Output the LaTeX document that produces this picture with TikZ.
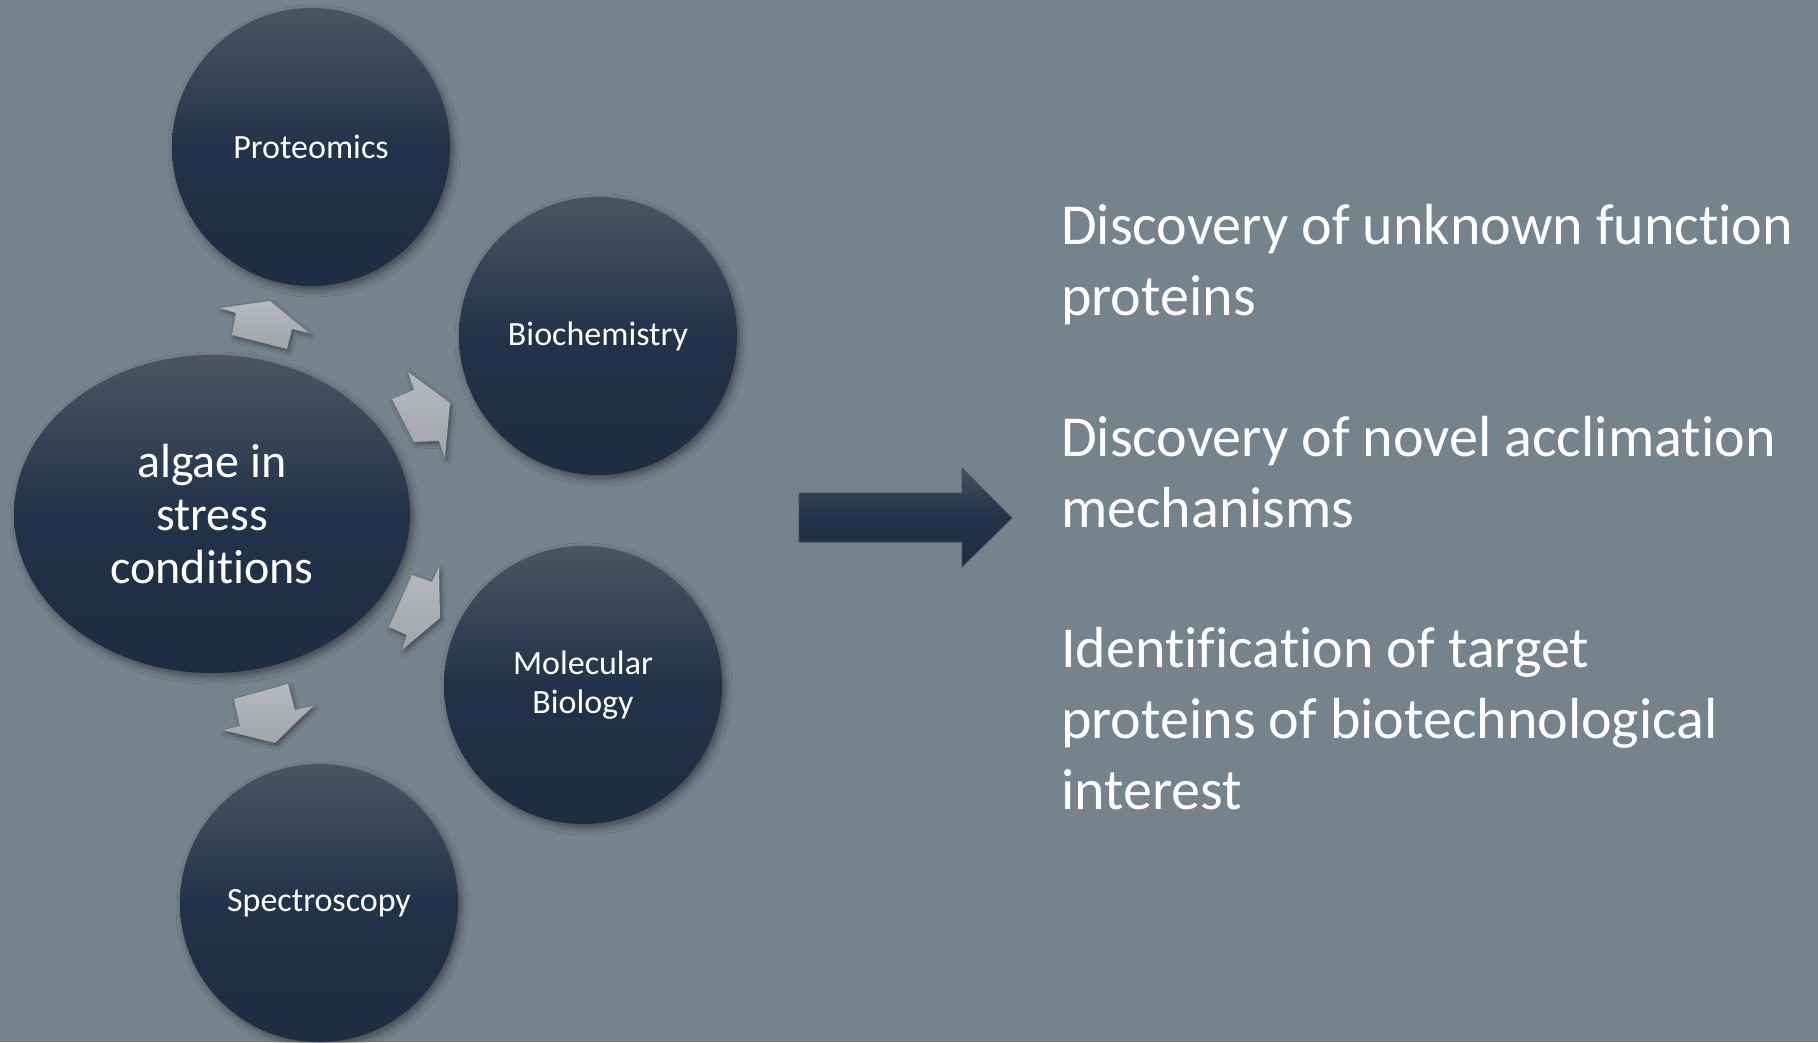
\documentclass[tikz,border=0pt]{standalone}
\usepackage{fontspec}
\setmainfont{Carlito}[Ligatures=NoCommon]
\usetikzlibrary{shapes.geometric,shadows.blur}
\definecolor{bgslate}{RGB}{117,131,140}
\definecolor{navytop}{RGB}{75,85,98}
\definecolor{navymid}{RGB}{33,51,74}
\definecolor{navybot}{RGB}{29,45,66}
\definecolor{chevtop}{RGB}{182,185,189}
\definecolor{chevbot}{RGB}{160,165,170}
\definecolor{arrowedge}{RGB}{62,78,97}
\tikzset{
  topic/.style={circle, minimum size=278pt, inner sep=0pt, align=center,
    text=white, font=\fontsize{34}{39}\selectfont,
    top color=navytop, bottom color=navybot, middle color=navymid,
    blur shadow={shadow xshift=3pt, shadow yshift=-4pt, shadow blur radius=7pt, shadow opacity=45}},
  hub/.style={ellipse, minimum width=396pt, minimum height=318pt, inner sep=0pt, align=center,
    text=white, font=\fontsize{48}{53}\selectfont,
    top color=navytop, bottom color=navybot, middle color=navymid,
    blur shadow={shadow xshift=3pt, shadow yshift=-4pt, shadow blur radius=7pt, shadow opacity=45}},
  chevron/.style={top color=chevtop, bottom color=chevbot,
    blur shadow={shadow xshift=2pt, shadow yshift=-3pt, shadow blur radius=4pt, shadow opacity=40}},
  bigarrow/.style={draw=arrowedge, line width=0.8pt, top color=navytop!85!navymid, bottom color=navybot, middle color=navymid},
  outcome/.style={anchor=base west, inner sep=0pt, text=white, font=\fontsize{58}{71}\selectfont}
}
\begin{document}
\begin{tikzpicture}[x=1pt,y=-1pt]
  \useasboundingbox (0,0) rectangle (1818,1042);
  \fill[bgslate] (0,0) rectangle (1818,1042);

  % central hub and the four techniques
  \node[hub]   (algae) at (212,514) {algae in\\stress\\conditions};
  \node[topic] (prot)  at (311,147) {Proteomics};
  \node[topic] (bioc)  at (598,336) {Biochemistry};
  \node[topic] (molb)  at (583,685) {Molecular\\Biology};
  \node[topic] (spec)  at (319,903) {Spectroscopy};

  % radial arrows from the hub
  \shade[chevron] (236,313) -- (220,308) -- (270,301) -- (309,333) -- (292,329) -- (287,349) -- (232,335) -- cycle;
  \shade[chevron] (414,390) -- (408,372) -- (450,403) -- (445,458) -- (439,441) -- (414,442) -- (392,399) -- cycle;
  \shade[chevron] (432,582) -- (439,567) -- (440,618) -- (402,650) -- (407,635) -- (389,627) -- (412,575) -- cycle;
  \shade[chevron] (295,710) -- (313,706) -- (275,743) -- (223,730) -- (240,726) -- (234,699) -- (288,684) -- cycle;

  % block arrow towards the outcomes
  \shade[bigarrow] (799,493) -- (962,493) -- (962,468) -- (1012,518) -- (962,567) -- (962,542) -- (799,542) -- cycle;

  % outcomes
  \node[outcome] (o1a) at (1061,244) {Discovery of unknown function};
  \node[outcome] (o1b) at (1061,315) {proteins};
  \node[outcome] (o2a) at (1061,456) {Discovery of novel acclimation};
  \node[outcome] (o2b) at (1061,527) {mechanisms};
  \node[outcome] (o3a) at (1061,667) {Identification of target};
  \node[outcome] (o3b) at (1061,738) {proteins of biotechnological};
  \node[outcome] (o3c) at (1061,809) {interest};
\end{tikzpicture}
\end{document}
